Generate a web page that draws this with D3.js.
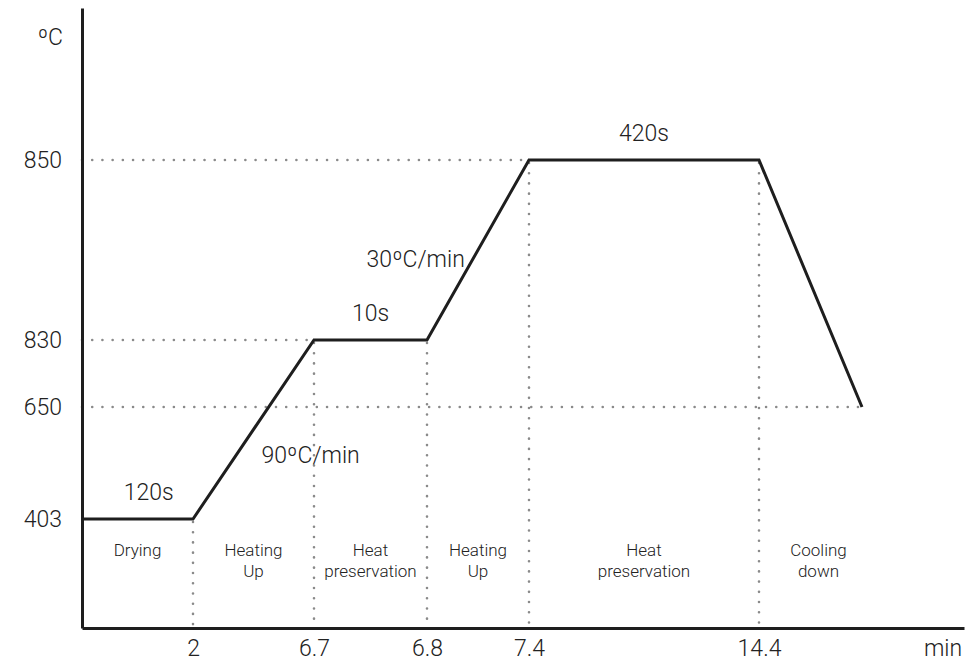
<!DOCTYPE html>
<html>
<head>
<meta charset="utf-8">
<script src="https://cdn.jsdelivr.net/npm/d3@7"></script>
<style>
  html, body { margin: 0; padding: 0; background: #fff; }
  svg text { font-family: "Roboto", "Liberation Sans", sans-serif; font-weight: 300; fill: #222; }
</style>
</head>
<body>
<svg id="chart" width="974" height="662"></svg>
<script>
// ---- data ----
const times = [0, 2, 6.7, 6.8, 7.4, 14.4, 16];          // min (last point: end of cooling)
const temps = [403, 403, 830, 830, 850, 850, 650];      // °C
const xTickValues = [2, 6.7, 6.8, 7.4, 14.4];
const yTickValues = [403, 650, 830, 850];
const phaseNames = [["Drying"], ["Heating", "Up"], ["Heat", "preservation"], ["Heating", "Up"], ["Heat", "preservation"], ["Cooling", "down"]];
const phaseBounds = [0, 2, 6.7, 6.8, 7.4, 14.4, 16];
const segLabels = ["120s", "90ºC/min", "10s", "30ºC/min", "420s"];
const segLabelTimes = [1.2, 6.57, 6.75, 6.79, 10.9];
const segLabelTemps = [403, 544, 830, 839, 850];
const hGuides = [850, 830, 650];
const hGuideEnds = [7.4, 6.7, 16];
const vGuides = [2, 6.7, 6.8, 7.4, 14.4];
const vGuideTops = [403, 830, 830, 850, 850];
const yUnit = "ºC", xUnit = "min";

// ---- scales (schematic, piecewise) ----
const x = d3.scaleLinear()
  .domain([0, 2, 6.7, 6.8, 7.4, 14.4, 16, 17.8])
  .range([82, 193, 314, 427, 529, 759, 862, 964]);
const y = d3.scaleLinear()
  .domain([300, 403, 650, 830, 850, 920])
  .range([628, 519, 407, 340, 160, 8]);

const svg = d3.select("#chart");
const pts = times.map((t, i) => ({ t, v: temps[i] }));

const dotStyle = sel => sel.attr("stroke", "#8a8a8a").attr("stroke-width", 2.6)
  .attr("stroke-linecap", "round").attr("stroke-dasharray", "0.01 10.2").attr("fill", "none");

// horizontal guides
svg.append("g").selectAll("line").data(hGuides).join("line")
  .attr("x1", x(0)).attr("x2", (d, i) => x(hGuideEnds[i]))
  .attr("y1", d => y(d)).attr("y2", d => y(d))
  .call(dotStyle);

// vertical guides
svg.append("g").selectAll("line").data(vGuides).join("line")
  .attr("x1", d => x(d)).attr("x2", d => x(d))
  .attr("y1", (d, i) => y(vGuideTops[i]) + 3).attr("y2", y(300))
  .call(dotStyle);

// profile line
svg.append("path").datum(pts)
  .attr("d", d3.line().x(d => x(d.t)).y(d => y(d.v)))
  .attr("fill", "none").attr("stroke", "#1e1e1e").attr("stroke-width", 3)
  .attr("stroke-linejoin", "miter");

// axes
const xAxis = svg.append("g").attr("transform", `translate(0,${y(300)})`)
  .call(d3.axisBottom(x).tickValues(xTickValues).tickSize(0).tickPadding(12).tickFormat(d => String(d)));
const yAxis = svg.append("g").attr("transform", `translate(${x(0)},0)`)
  .call(d3.axisLeft(y).tickValues(yTickValues).tickSize(0).tickPadding(20).tickFormat(d => String(d)));
[xAxis, yAxis].forEach(a => {
  a.select(".domain").attr("stroke", "#1e1e1e").attr("stroke-width", 3);
  a.selectAll("text").attr("font-size", 23).attr("fill", "#222")
    .style("font-family", "Roboto, 'Liberation Sans', sans-serif").style("font-weight", 300);
});

// units
svg.append("text").attr("x", 63).attr("y", 45).attr("text-anchor", "end").attr("font-size", 23).text(yUnit);
svg.append("text").attr("x", 943).attr("y", 656).attr("text-anchor", "middle").attr("font-size", 23).text(xUnit);

// segment labels
svg.append("g").selectAll("text").data(segLabels).join("text")
  .attr("x", (d, i) => x(segLabelTimes[i]))
  .attr("y", (d, i) => y(segLabelTemps[i]) - (i === 1 || i === 3 ? -8 : 19))
  .attr("text-anchor", "middle").attr("font-size", 23).text(d => d);

// phase labels
const ph = svg.append("g").selectAll("text").data(phaseNames).join("text")
  .attr("x", (d, i) => (x(phaseBounds[i]) + x(phaseBounds[i + 1])) / 2 + (i === 5 ? 8 : 0))
  .attr("y", 556).attr("text-anchor", "middle").attr("font-size", 17);
ph.selectAll("tspan").data(d => d).join("tspan")
  .attr("x", function () { return this.parentNode.getAttribute("x"); })
  .attr("dy", (d, i) => i === 0 ? 0 : 21).text(d => d);
</script>
</body>
</html>
